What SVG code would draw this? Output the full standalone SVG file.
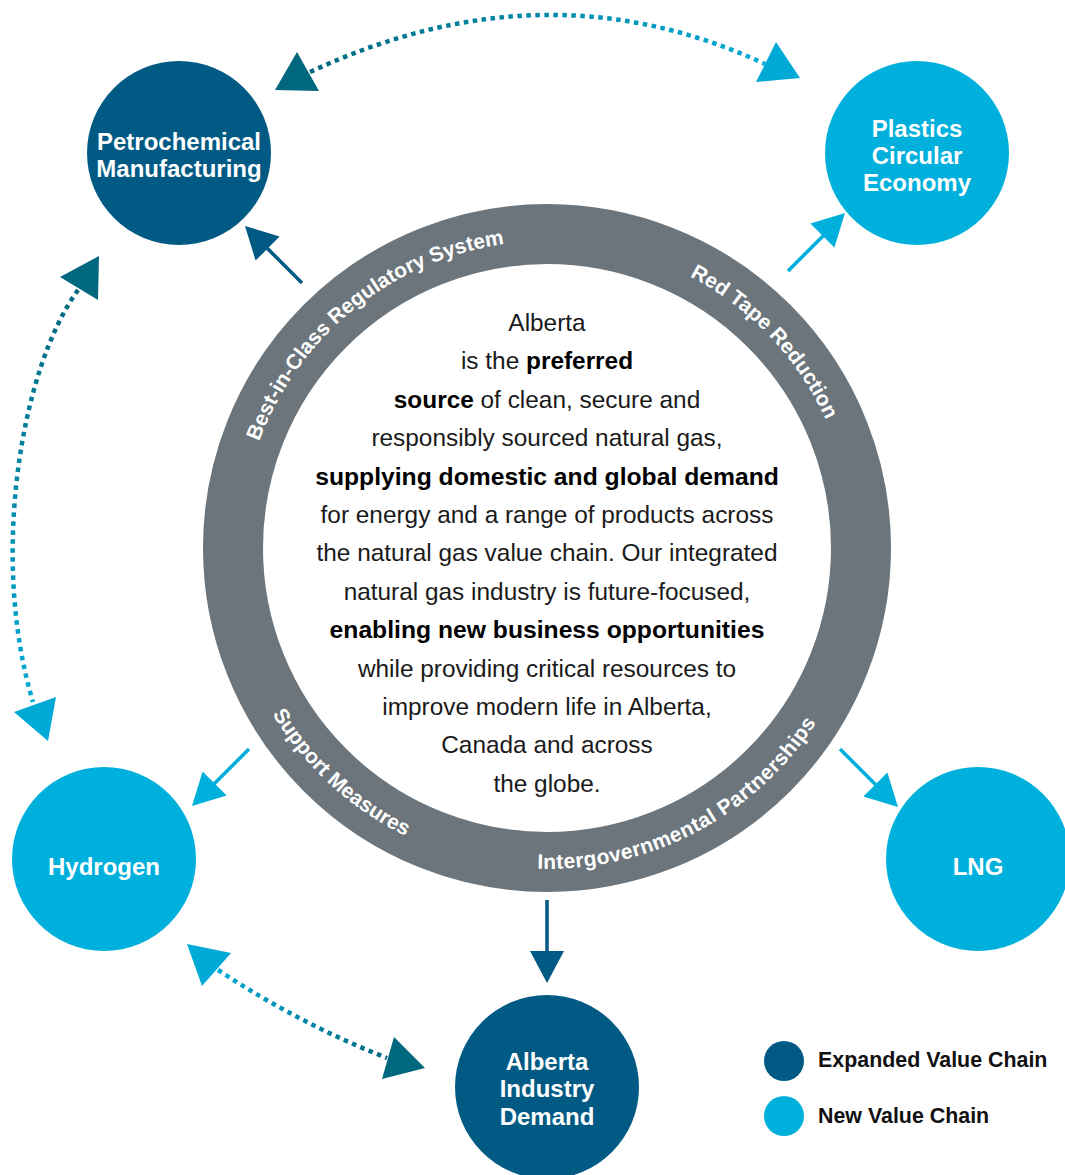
<svg xmlns="http://www.w3.org/2000/svg" xmlns:xlink="http://www.w3.org/1999/xlink" width="1065" height="1175" viewBox="0 0 1065 1175">
<style>
.dark{fill:#005a84}
.light{fill:#00b0dc}
.nl{font-family:"Liberation Sans",Arial,sans-serif;font-weight:bold;font-size:24px;fill:#fff;text-anchor:middle}
.rt{font-family:"Liberation Sans",Arial,sans-serif;font-weight:bold;font-size:21px;fill:#fff;text-anchor:middle}
.body{font-family:"Liberation Sans",Arial,sans-serif;font-size:24.4px;fill:#1a1a1a;text-anchor:middle}
.b{font-weight:bold;fill:#000}
.bl{font-weight:bold;fill:#000;font-size:24.7px}
.lg{font-family:"Liberation Sans",Arial,sans-serif;font-weight:bold;font-size:21.4px;fill:#111}
.dot{fill:none;stroke-width:4.5;stroke-dasharray:4.5 4.5}
.ln{stroke-width:3.5;fill:none}
</style>
<defs>
<linearGradient id="gTop" gradientUnits="userSpaceOnUse" x1="300" y1="0" x2="770" y2="0">
<stop offset="0" stop-color="#00687e"/><stop offset="1" stop-color="#00aad6"/>
</linearGradient>
<linearGradient id="gLeft" gradientUnits="userSpaceOnUse" x1="0" y1="290" x2="0" y2="702">
<stop offset="0" stop-color="#00687e"/><stop offset="1" stop-color="#00aad6"/>
</linearGradient>
<linearGradient id="gBot" gradientUnits="userSpaceOnUse" x1="218" y1="970" x2="387" y2="1058">
<stop offset="0" stop-color="#00aad6"/><stop offset="1" stop-color="#00687e"/>
</linearGradient>
<path id="arcTop" d="M240,548 A307,307 0 0 1 854,548"/>
<path id="arcBot" d="M226,548 A321,321 0 0 0 868,548"/>
</defs>

<g id="ring">
<circle cx="547" cy="548" r="314" fill="none" stroke="#6b757b" stroke-width="60"/>
<text class="rt"><textPath xlink:href="#arcTop" href="#arcTop" startOffset="274">Best-in-Class Regulatory System</textPath></text>
<text class="rt"><textPath xlink:href="#arcTop" href="#arcTop" startOffset="731">Red Tape Reduction</textPath></text>
<text class="rt"><textPath xlink:href="#arcBot" href="#arcBot" startOffset="266">Support Measures</textPath></text>
<text class="rt" letter-spacing="0.4"><textPath xlink:href="#arcBot" href="#arcBot" startOffset="659">Intergovernmental Partnerships</textPath></text>
</g>

<g id="center-text" class="body">
<text x="547" y="331">Alberta</text>
<text x="547" y="369.4">is the <tspan class="b">preferred</tspan></text>
<text x="547" y="407.8"><tspan class="b">source</tspan> of clean, secure and</text>
<text x="547" y="446.2">responsibly sourced natural gas,</text>
<text x="547" y="484.6" class="bl">supplying domestic and global demand</text>
<text x="547" y="523">for energy and a range of products across</text>
<text x="547" y="561.4">the natural gas value chain. Our integrated</text>
<text x="547" y="599.8">natural gas industry is future-focused,</text>
<text x="547" y="638.2" class="bl">enabling new business opportunities</text>
<text x="547" y="676.6">while providing critical resources to</text>
<text x="547" y="715">improve modern life in Alberta,</text>
<text x="547" y="753.4">Canada and across</text>
<text x="547" y="791.8">the globe.</text>
</g>

<g id="petrochemical">
<circle class="dark" cx="179" cy="153" r="92"/>
<text class="nl" x="179" y="149.5">Petrochemical</text>
<text class="nl" x="179" y="176.5">Manufacturing</text>
</g>
<g id="plastics">
<circle class="light" cx="917" cy="153" r="92"/>
<text class="nl" x="917" y="136.5">Plastics</text>
<text class="nl" x="917" y="163.5">Circular</text>
<text class="nl" x="917" y="190.5">Economy</text>
</g>
<g id="hydrogen">
<circle class="light" cx="104" cy="859" r="92"/>
<text class="nl" x="104" y="874.5">Hydrogen</text>
</g>
<g id="lng">
<circle class="light" cx="978" cy="859" r="92"/>
<text class="nl" x="978" y="874.5">LNG</text>
</g>
<g id="alberta-industry">
<circle class="dark" cx="547" cy="1087" r="92"/>
<text class="nl" x="547" y="1069.5">Alberta</text>
<text class="nl" x="547" y="1096.5">Industry</text>
<text class="nl" x="547" y="1124.5">Demand</text>
</g>

<g id="connectors">
<line class="ln" x1="302" y1="283" x2="262" y2="243" stroke="#005a84"/>
<polygon class="dark" points="245,226 279.6,236.6 255.6,260.6"/>
<line class="ln" x1="788" y1="271" x2="828" y2="231" stroke="#00b0dc"/>
<polygon class="light" points="845,213 834.4,247.6 810.4,223.6"/>
<line class="ln" x1="249" y1="749" x2="209" y2="789" stroke="#00b0dc"/>
<polygon class="light" points="192,806 226.6,795.4 202.6,771.4"/>
<line class="ln" x1="840" y1="749" x2="880" y2="789" stroke="#00b0dc"/>
<polygon class="light" points="898,807 887.4,772.4 863.4,796.4"/>
<line class="ln" x1="547" y1="900" x2="547" y2="958" stroke="#005a84"/>
<polygon class="dark" points="547,983 530,951 564,951"/>

<path class="dot" stroke="url(#gTop)" d="M310,72 Q546,-38 765,64"/>
<polygon fill="#00687e" points="297,52 275,90 319,91"/>
<polygon fill="#00aad6" points="776,42 756,82 800,78"/>

<path class="dot" stroke="url(#gLeft)" d="M78,290 C20,370 -10,560 33,702"/>
<polygon fill="#00687e" points="99,256 60,277 98,300"/>
<polygon fill="#00aad6" points="14,712 56,697 48,741"/>

<path class="dot" stroke="url(#gBot)" d="M218,970 Q300,1024 387,1058"/>
<polygon fill="#00aad6" points="187,944 231,953 202,986"/>
<polygon fill="#00687e" points="394,1037 425,1068 382,1079"/>
</g>

<g id="legend">
<circle class="dark" cx="784" cy="1061" r="20"/>
<text class="lg" x="818" y="1066.5">Expanded Value Chain</text>
<circle class="light" cx="784" cy="1116" r="20"/>
<text class="lg" x="818" y="1122.5">New Value Chain</text>
</g>
</svg>
